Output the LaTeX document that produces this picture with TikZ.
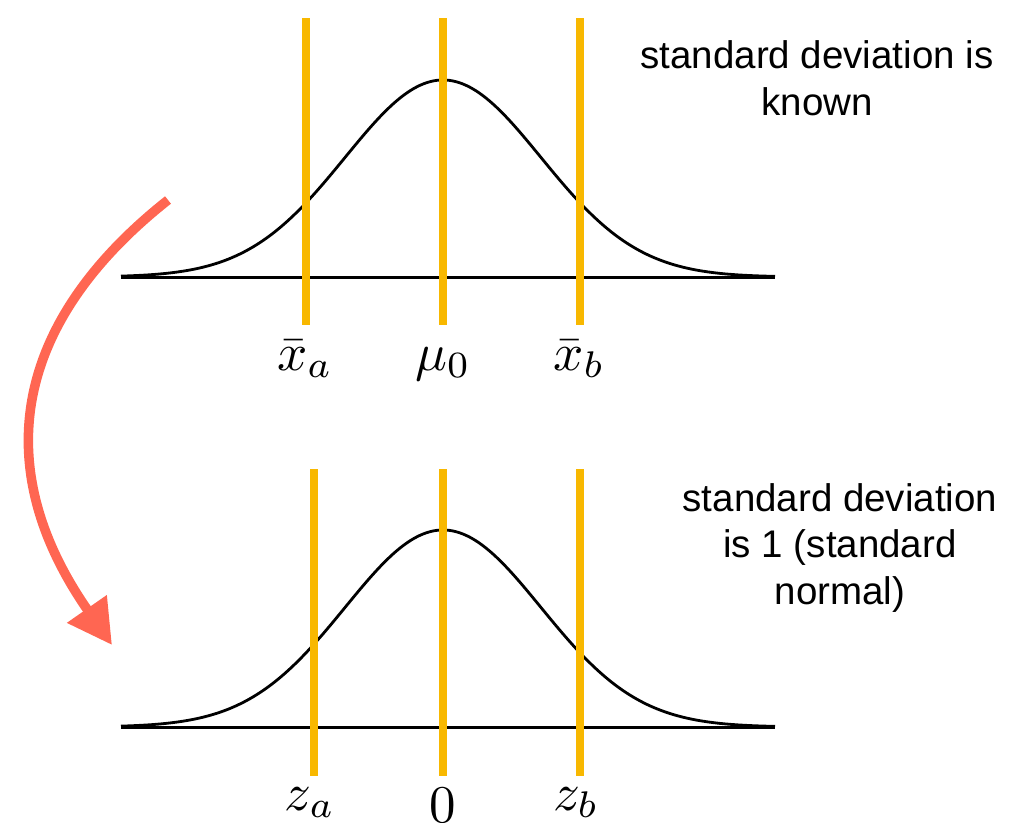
\documentclass[tikz,border=0pt]{standalone}
\usepackage{fontspec}
\setsansfont{Liberation Sans}
\usetikzlibrary{arrows.meta}
\definecolor{goldline}{RGB}{248,184,0}
\definecolor{tomatoarrow}{RGB}{255,102,82}
\tikzset{
  gauss/.style={black, line width=2.8pt, line join=round},
  axisline/.style={black, line width=3pt},
  markline/.style={goldline, line width=8pt},
  mathlbl/.style={anchor=base, inner sep=0pt, scale=5.3},
  note/.style={align=center, inner sep=0pt, font=\sffamily\fontsize{38.5}{46.5}\selectfont},
  bigarrow/.style={tomatoarrow, line width=9.5pt, -{Triangle[length=44pt,width=46pt]}}
}
\begin{document}
\begin{tikzpicture}[x=1pt,y=-1pt]
\useasboundingbox (0,0) rectangle (1020,822);
% top distribution
\draw[gauss] plot[domain=121:775, samples=200] (\x, {277 - 197*exp(-0.5*((\x-443)/98)^2)});
\draw[axisline] (121,277) -- (775,277);
\coordinate (ta1) at (305.5,18);  \coordinate (ta2) at (305.5,325);
\coordinate (tm1) at (443,18);    \coordinate (tm2) at (443,325);
\coordinate (tb1) at (580,18);    \coordinate (tb2) at (580,325);
\draw[markline] (ta1) -- (ta2);
\draw[markline] (tm1) -- (tm2);
\draw[markline] (tb1) -- (tb2);
\node[mathlbl] (xa) at (305,370) {$\bar{x}_a$};
\node[mathlbl] (mu) at (443,370) {$\mu_0$};
\node[mathlbl] (xb) at (579,370) {$\bar{x}_b$};
\node[note] (known) at (817,78) {standard deviation is\\known};
% bottom distribution
\draw[gauss] plot[domain=121:775, samples=200] (\x, {727 - 197*exp(-0.5*((\x-443)/98)^2)});
\draw[axisline] (121,727) -- (775,727);
\coordinate (ba1) at (314,469);  \coordinate (ba2) at (314,776);
\coordinate (bm1) at (443,469);  \coordinate (bm2) at (443,776);
\coordinate (bb1) at (580,469);  \coordinate (bb2) at (580,776);
\draw[markline] (ba1) -- (ba2);
\draw[markline] (bm1) -- (bm2);
\draw[markline] (bb1) -- (bb2);
\node[mathlbl] (za) at (310,810) {$z_a$};
\node[mathlbl] (zero) at (443,822) {$0$};
\node[mathlbl] (zb) at (576,810) {$z_b$};
\node[note] (stdn) at (840,548) {standard deviation\\is 1 (standard\\normal)};
% arrow
\coordinate (arrowstart) at (168,200);
\coordinate (arrowend) at (112,645);
\draw[bigarrow] (arrowstart) .. controls (10,325) and (-10,470) .. (arrowend);
\end{tikzpicture}
\end{document}
